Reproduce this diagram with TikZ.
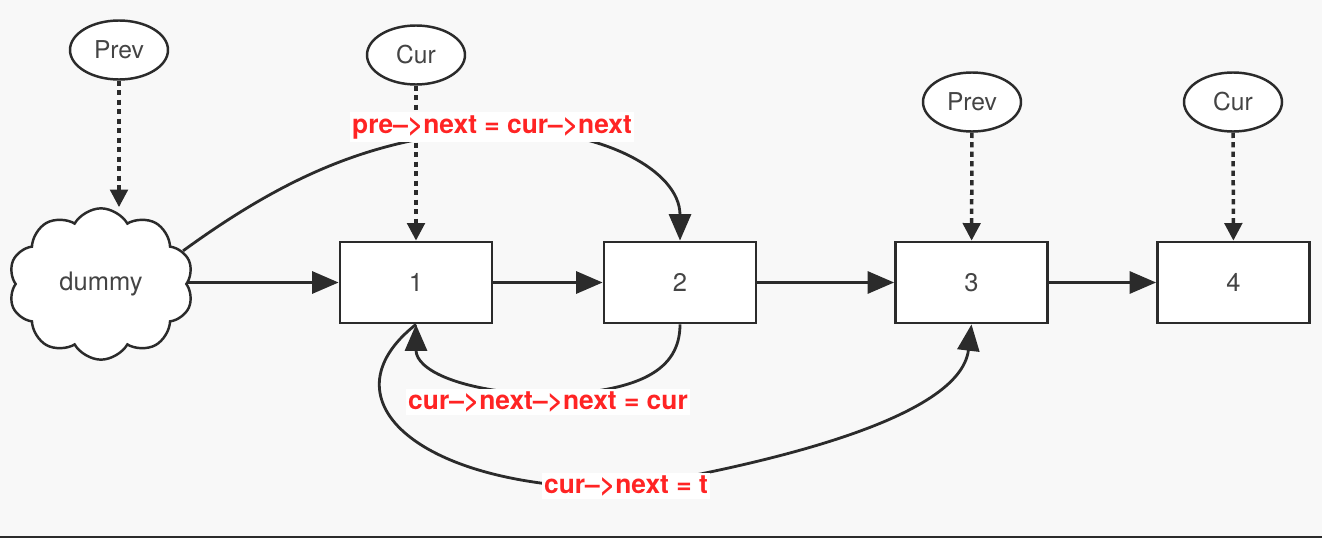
\documentclass[tikz,border=0pt]{standalone}
\usepackage{fontspec}
\setmainfont{TeX Gyre Heros}
\usepackage{tikz}
\usetikzlibrary{arrows.meta,
                positioning,
                shapes.geometric,
                shapes.symbols}

\definecolor{edge}{HTML}{2B2B2B}
\definecolor{txt}{HTML}{444444}
\definecolor{hot}{HTML}{FF2424}
\definecolor{paper}{HTML}{F8F8F8}

\tikzset{
  cell/.style={draw=edge, line width=1.6pt, fill=white, text=txt,
               minimum width=3.04cm, minimum height=1.62cm,
               font=\fontsize{14.5}{16}\selectfont},
  ptr/.style={ellipse, draw=edge, line width=1.4pt, fill=white, text=txt,
              minimum width=1.96cm, minimum height=1.18cm, inner sep=0pt,
              font=\fontsize{14}{16}\selectfont},
  link/.style={draw=edge, line width=1.6pt,
               -{Triangle[length=15pt,width=12.5pt]}},
  watch/.style={draw=edge, line width=2pt, dash pattern=on 3pt off 2.4pt,
                -{Triangle[length=10pt,width=10pt]}},
  note/.style={fill=white, text=hot, inner xsep=1pt, inner ysep=1.6pt,
               font=\bfseries\fontsize{15}{17}\selectfont}
}

\begin{document}
\begin{tikzpicture}
\fill[paper] (0,0) rectangle (26.44,10.76);
\useasboundingbox (0,0) rectangle (26.44,10.76);
\fill[edge] (0,0) rectangle (26.44,0.04);

% list
\node[cloud, cloud puffs=10, cloud puff arc=120, draw=edge, line width=1.4pt,
      fill=white, text=txt, minimum width=3.7cm, minimum height=2.75cm,
      font=\fontsize{14.5}{16}\selectfont] (dummy) at (2.02,5.08) {dummy};
\node[cell] (b1) at (8.32,5.11) {1};
\node[cell] (b2) at (13.6,5.11) {2};
\node[cell] (b3) at (19.43,5.11) {3};
\node[cell] (b4) at (24.67,5.11) {4};

% pointers
\node[ptr] (p1) at (2.38,9.76) {Prev};
\node[ptr] (c1) at (8.32,9.66) {Cur};
\node[ptr] (p2) at (19.44,8.72) {Prev};
\node[ptr] (c2) at (24.66,8.72) {Cur};

\draw[link] (dummy.east |- b1.west) -- (b1.west);
\draw[link] (b1) -- (b2);
\draw[link] (b2) -- (b3);
\draw[link] (b3) -- (b4);

\draw[watch] (p1.south) -- (p1.south |- dummy.north);
\draw[watch] (c1) -- (b1);
\draw[watch] (p2) -- (b3);
\draw[watch] (c2) -- (b4);

% relinking
\draw[link] (dummy.22) .. controls (5.8,7.3) and (7.6,8.06) .. (10.0,8.16)
            .. controls (12.0,8.2) and (13.6,7.36) .. (b2.north);
\draw[link] (b2.south) .. controls (13.6,3.36) and (12.8,2.92) .. (10.96,2.86)
            .. controls (9.2,2.92) and (8.32,3.36) .. (b1.south);
\draw[link] (b1.south) .. controls (6.4,2.76) and (8.4,0.96) .. (12.52,1.0)
            .. controls (15.2,1.46) and (19.2,2.36) .. (b3.south);

\node[note] (n1) at (9.84,8.22) {pre–>next = cur–>next};
\node[note] (n2) at (10.96,2.72) {cur–>next–>next = cur};
\node[note] (n3) at (12.52,1.04) {cur–>next = t};
\end{tikzpicture}
\end{document}
